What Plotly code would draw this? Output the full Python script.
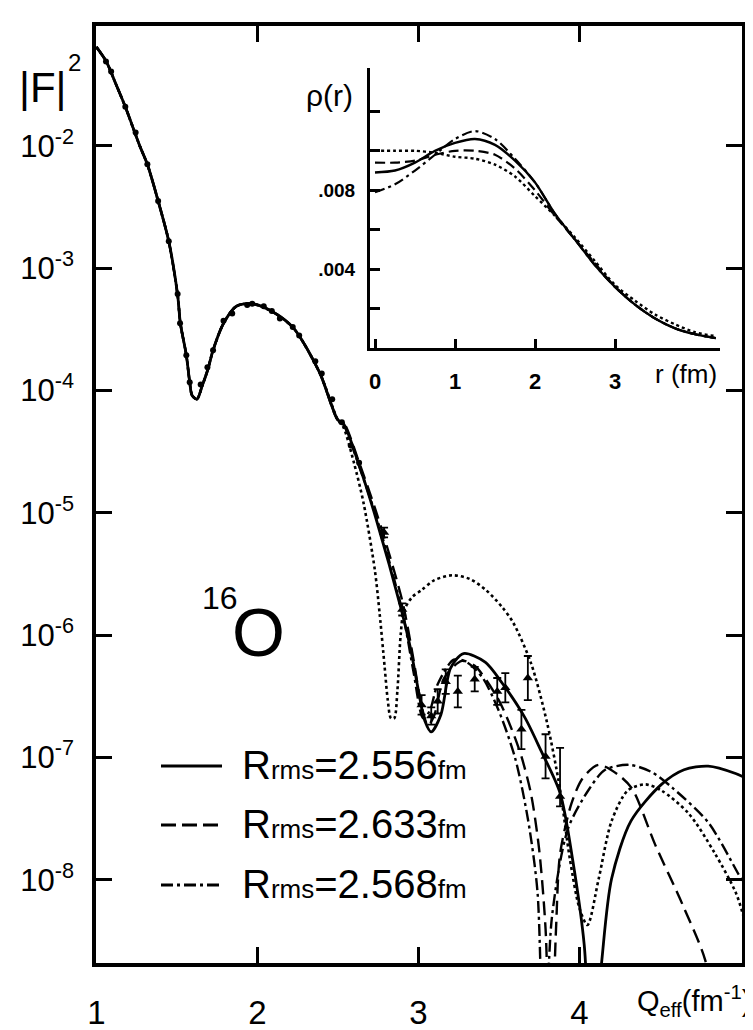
import plotly.graph_objects as go

# ---------------- data ----------------
# common part of the four |F|^2 curves (they coincide up to q ~ 2.5 fm^-1)
q_common = [1.00, 1.062, 1.12, 1.18, 1.27, 1.317, 1.384, 1.45, 1.505, 1.522, 1.559, 1.58,
            1.595, 1.625, 1.658, 1.692, 1.725, 1.79, 1.87, 1.968, 2.10, 2.225, 2.386, 2.50]
F2_common = [0.0646, 0.0490, 0.0324, 0.0209, 0.0100, 0.00708, 0.00355, 0.00166, 6.03e-4, 3.55e-4,
             1.95e-4, 1.17e-4, 9.12e-5, 8.51e-5, 1.10e-4, 1.48e-4, 2.14e-4, 3.55e-4, 4.90e-4,
             5.13e-4, 4.37e-4, 3.24e-4, 1.41e-4, 5.75e-5]

# Rrms = 2.556 fm (solid)
q_solid_tail = [2.535, 2.63, 2.74, 2.89, 2.95, 3.00, 3.04, 3.08, 3.14, 3.20, 3.28, 3.415, 3.52,
                3.66, 3.76, 3.88, 3.96, 4.03, 4.08, 4.14, 4.20, 4.32, 4.51, 4.65, 4.80, 4.97, 5.02]
F2_solid_tail = [5.37e-5, 2.51e-5, 8.71e-6, 1.70e-6, 7.94e-7, 3.55e-7, 2.00e-7, 1.62e-7, 2.24e-7,
                 5.37e-7, 7.08e-7, 6.03e-7, 4.07e-7, 2.14e-7, 1.15e-7, 5.13e-8, 1.41e-8, 2.95e-9,
                 2.5e-10, 2.24e-9, 1.02e-8, 3.02e-8, 6.03e-8, 7.94e-8, 8.51e-8, 7.41e-8, 6.92e-8]

# Rrms = 2.633 fm (dashed)
q_dash_tail = [2.535, 2.63, 2.75, 2.90, 2.97, 3.02, 3.06, 3.10, 3.16, 3.27, 3.35, 3.495, 3.58,
               3.64, 3.70, 3.75, 3.79, 3.82, 3.855, 3.88, 3.95, 4.02, 4.12, 4.25, 4.33, 4.47,
               4.64, 4.78, 4.86]
F2_dash_tail = [5.50e-5, 2.63e-5, 9.12e-6, 1.91e-6, 6.31e-7, 2.63e-7, 1.82e-7, 2.24e-7, 4.47e-7,
                6.17e-7, 5.62e-7, 3.02e-7, 1.70e-7, 1.02e-7, 5.01e-8, 1.78e-8, 3.98e-9, 2.5e-10,
                3.98e-9, 1.62e-8, 4.17e-8, 6.76e-8, 8.71e-8, 7.08e-8, 5.50e-8, 1.95e-8, 6.31e-9,
                2.24e-9, 6.31e-10]

# Rrms = 2.568 fm (dash-dot)
q_dashdot_tail = [2.535, 2.63, 2.75, 2.90, 2.97, 3.03, 3.07, 3.12, 3.22, 3.30, 3.40, 3.50, 3.60,
                  3.68, 3.74, 3.78, 3.83, 3.93, 4.06, 4.16, 4.31, 4.45, 4.58, 4.80, 4.99, 5.03]
F2_dashdot_tail = [5.25e-5, 2.45e-5, 8.32e-6, 1.58e-6, 5.01e-7, 2.09e-7, 2.40e-7, 3.98e-7, 6.31e-7,
                   6.03e-7, 4.47e-7, 2.40e-7, 1.00e-7, 3.16e-8, 7.94e-9, 2.5e-10, 5.01e-9, 2.63e-8,
                   5.50e-8, 7.94e-8, 8.71e-8, 7.59e-8, 5.62e-8, 2.95e-8, 1.10e-8, 8.91e-9]

# dotted curve
q_dot_tail = [2.535, 2.60, 2.66, 2.73, 2.76, 2.79, 2.81, 2.83, 2.85, 2.87, 2.89, 2.91, 2.96, 3.02,
              3.10, 3.21, 3.32, 3.42, 3.52, 3.59, 3.70, 3.80, 3.88, 3.94, 4.00, 4.05, 4.12, 4.20,
              4.30, 4.41, 4.51, 4.68, 4.84, 4.97, 5.02]
F2_dot_tail = [5.01e-5, 2.57e-5, 1.20e-5, 3.39e-6, 1.48e-6, 5.62e-7, 2.95e-7, 2.09e-7, 2.09e-7,
               3.55e-7, 1.00e-6, 1.58e-6, 2.04e-6, 2.34e-6, 2.82e-6, 3.09e-6, 2.88e-6, 2.34e-6,
               1.70e-6, 1.26e-6, 5.89e-7, 1.91e-7, 5.50e-8, 1.51e-8, 5.89e-9, 4.27e-9, 1.02e-8,
               3.02e-8, 5.37e-8, 6.03e-8, 5.37e-8, 3.47e-8, 1.66e-8, 7.94e-9, 5.01e-9]

# experimental points: filled dots (low q)
q_dots = [1.06, 1.092, 1.18, 1.244, 1.317, 1.384, 1.45, 1.505, 1.52, 1.559, 1.58, 1.648, 1.69,
          1.725, 1.79, 1.844, 1.937, 1.968, 2.04, 2.09, 2.14, 2.22, 2.26, 2.36, 2.40, 2.465,
          2.525, 2.58, 2.632]
F2_dots = [0.049, 0.0407, 0.0209, 0.0129, 0.00708, 0.00355, 0.00166, 6.17e-4, 3.55e-4, 1.95e-4,
           1.17e-4, 1.12e-4, 1.55e-4, 2.14e-4, 3.72e-4, 4.27e-4, 5.01e-4, 5.13e-4, 4.90e-4,
           4.47e-4, 3.89e-4, 3.31e-4, 2.82e-4, 1.74e-4, 1.38e-4, 8.51e-5, 5.50e-5, 3.55e-5, 2.57e-5]

# experimental points: triangles with error bars (high q)
q_tri = [2.787, 2.90, 3.02, 3.08, 3.12, 3.17, 3.245, 3.35, 3.49, 3.54, 3.64, 3.68, 3.79, 3.88]
F2_tri = [6.92e-6, 1.62e-6, 2.69e-7, 2.19e-7, 2.88e-7, 4.17e-7, 3.47e-7, 4.37e-7, 3.47e-7,
          3.72e-7, 1.70e-7, 4.47e-7, 1.02e-7, 4.79e-8]
F2_tri_hi = [7.59e-6, 1.82e-6, 3.24e-7, 2.57e-7, 3.63e-7, 5.25e-7, 4.68e-7, 5.50e-7, 4.47e-7,
             4.90e-7, 2.45e-7, 6.76e-7, 1.55e-7, 1.20e-7]
F2_tri_lo = [6.31e-6, 1.45e-6, 2.24e-7, 1.86e-7, 2.29e-7, 3.31e-7, 2.57e-7, 3.47e-7, 2.69e-7,
             2.82e-7, 1.17e-7, 2.95e-7, 6.76e-8, 3.98e-8]

# inset: charge densities rho(r)
r_in = [0, 0.25, 0.5, 0.75, 1.0, 1.25, 1.5, 1.75, 2.0, 2.25, 2.5, 2.75, 3.0, 3.25, 3.5, 3.75, 4.0, 4.26]
rho_dot = [0.0100, 0.0100, 0.0100, 0.0099, 0.0097, 0.0096, 0.0093, 0.0087, 0.0077, 0.0067, 0.0056,
           0.0044, 0.0032, 0.0024, 0.0017, 0.0012, 0.0008, 0.0006]
rho_dash = [0.0094, 0.0094, 0.0095, 0.0098, 0.0100, 0.0100, 0.0098, 0.0091, 0.0080, 0.0067,
            0.0055, 0.0043, 0.0031, 0.0022, 0.0015, 0.0010, 0.0007, 0.0005]
rho_solid = [0.0089, 0.0090, 0.0094, 0.0100, 0.0104, 0.0106, 0.0103, 0.0095, 0.0084, 0.0068,
             0.0055, 0.0042, 0.0031, 0.0022, 0.0015, 0.0010, 0.0007, 0.0005]
rho_dashdot = [0.0079, 0.0083, 0.0090, 0.0098, 0.0106, 0.0110, 0.0106, 0.0096, 0.0084, 0.0068,
               0.0055, 0.0042, 0.0031, 0.0022, 0.0015, 0.0010, 0.0007, 0.0005]

x_ticks = [1, 2, 3, 4]
x_ticktext = ["1", "2", "3", "4"]
y_ticks = [1e-2, 1e-3, 1e-4, 1e-5, 1e-6, 1e-7, 1e-8]
y_ticktext = ["10<sup>-2</sup>", "10<sup>-3</sup>", "10<sup>-4</sup>", "10<sup>-5</sup>",
              "10<sup>-6</sup>", "10<sup>-7</sup>", "10<sup>-8</sup>"]
r_ticks = [0, 1, 2, 3]
r_ticktext = ["0", "1", "2", "3"]
rho_label_ticks = [0.004, 0.008]
rho_label_text = [".004", ".008"]
rho_minor_ticks = [0.002, 0.006, 0.010, 0.012]
legend_labels = ["2.556", "2.633", "2.568"]

# ---------------- figure ----------------
FONT = "Liberation Sans, Arial, sans-serif"
K = "black"

W, H = 753, 1030
L, R, T, B = 88, 19, 18, 75
PW, PH = W - L - R, H - T - B


def px(xp):
    return (xp - L) / PW


def py(yp):
    return (H - B - yp) / PH


fig = go.Figure()

curves = [
    (q_common + q_dot_tail, F2_common + F2_dot_tail, "3px,3px", 2.6),
    (q_common + q_dashdot_tail, F2_common + F2_dashdot_tail, "12px,4px,3px,4px", 2.4),
    (q_common + q_dash_tail, F2_common + F2_dash_tail, "14px,7px", 2.4),
    (q_common + q_solid_tail, F2_common + F2_solid_tail, "solid", 2.8),
]
for qx, fy, dash, w in curves:
    fig.add_trace(go.Scatter(x=qx, y=fy, mode="lines",
                             line=dict(color=K, width=w, dash=dash, shape="spline", smoothing=0.8),
                             showlegend=False, hoverinfo="skip", cliponaxis=True))

fig.add_trace(go.Scatter(x=q_dots, y=F2_dots, mode="markers",
                         marker=dict(symbol="circle", size=6, color=K), showlegend=False))

err_plus = [h - v for h, v in zip(F2_tri_hi, F2_tri)]
err_minus = [v - l for v, l in zip(F2_tri, F2_tri_lo)]
fig.add_trace(go.Scatter(x=q_tri, y=F2_tri, mode="markers",
                         marker=dict(symbol="triangle-up", size=9, color=K),
                         error_y=dict(type="data", array=err_plus, arrayminus=err_minus,
                                      color=K, thickness=1.8, width=4),
                         showlegend=False))

# inset
inset = [
    (rho_dot, "3px,3px", 2.4),
    (rho_dashdot, "10px,4px,3px,4px", 2.2),
    (rho_dash, "10px,5px", 2.2),
    (rho_solid, "solid", 2.4),
]
for rv, dash, w in inset:
    fig.add_trace(go.Scatter(x=r_in, y=rv, mode="lines", xaxis="x2", yaxis="y2",
                             line=dict(color=K, width=w, dash=dash, shape="spline", smoothing=0.8),
                             showlegend=False, hoverinfo="skip"))

# legend keys (decoration) and texts
rows = [758, 817, 877]
dashes = ["solid", "15px,6px", "12px,4px,3px,4px"]
shapes = []
ann = []
for yrow, d, lab in zip(rows, dashes, legend_labels):
    shapes.append(dict(type="line", xref="paper", yref="paper", x0=px(153), x1=px(214),
                       y0=py(yrow), y1=py(yrow), line=dict(color=K, width=3, dash=d)))
    ann.append(dict(xref="paper", yref="paper", x=px(232), y=py(yrow - 1), xanchor="left",
                    yanchor="middle", showarrow=False,
                    text="R<span style='font-size:26px'>rms</span>=" + lab +
                         "<span style='font-size:26px'>fm</span>",
                    font=dict(family=FONT, size=40, color=K)))

ann += [
    dict(xref="paper", yref="paper", x=px(34), y=py(80), xanchor="center", yanchor="middle",
         showarrow=False, text="|F|", font=dict(family=FONT, size=42, color=K)),
    dict(xref="paper", yref="paper", x=px(66), y=py(55), xanchor="center", yanchor="middle",
         showarrow=False, text="2", font=dict(family=FONT, size=24, color=K)),
    dict(xref="paper", yref="paper", x=px(212), y=py(590), xanchor="center", yanchor="middle",
         showarrow=False, text="16", font=dict(family=FONT, size=32, color=K)),
    dict(xref="paper", yref="paper", x=px(250), y=py(624), xanchor="center", yanchor="middle",
         showarrow=False, text="O", font=dict(family=FONT, size=68, color=K)),
    dict(xref="paper", yref="paper", x=px(745), y=py(993), xanchor="right", yanchor="middle",
         showarrow=False, text="Q<sub>eff</sub>(fm<sup>-1</sup>)",
         font=dict(family=FONT, size=29, color=K)),
    dict(xref="paper", yref="paper", x=px(321), y=py(88), xanchor="center", yanchor="middle",
         showarrow=False, text="ρ(r)", font=dict(family=FONT, size=30, color=K)),
    dict(xref="paper", yref="paper", x=px(678), y=py(366), xanchor="center", yanchor="middle",
         showarrow=False, text="r (fm)", font=dict(family=FONT, size=26, color=K)),
]

axis_common = dict(showline=True, linecolor=K, showgrid=False, zeroline=False, ticks="inside",
                   tickcolor=K, automargin=False)

fig.update_layout(
    width=W, height=H, autosize=False,
    margin=dict(l=L, r=R, t=T, b=B),
    paper_bgcolor="white", plot_bgcolor="white",
    showlegend=False,
    xaxis=dict(**axis_common, range=[0.998, 5.010], linewidth=3.5, mirror="ticks",
               ticklen=16, tickwidth=3, tickvals=x_ticks, ticktext=x_ticktext,
               tickfont=dict(family=FONT, size=33, color=K), ticklabelstandoff=18),
    yaxis=dict(**axis_common, type="log", range=[-8.68, -1.019], linewidth=3.5, mirror="ticks",
               ticklen=16, tickwidth=3, tickvals=y_ticks, ticktext=y_ticktext,
               tickfont=dict(family=FONT, size=31, color=K), ticklabelstandoff=12),
    xaxis2=dict(**axis_common, domain=[px(362), px(712)], anchor="y2", range=[-0.0625, 4.3125],
                linewidth=3, ticklen=9, tickwidth=2.5, tickvals=r_ticks, ticktext=r_ticktext,
                tickfont=dict(family=FONT, size=22, color=K, weight="bold"),
                ticklabelstandoff=12),
    yaxis2=dict(**axis_common, domain=[py(340), py(60)], anchor="x2", range=[0, 0.0142],
                linewidth=3, ticklen=10, tickwidth=2.5,
                tickvals=rho_label_ticks, ticktext=rho_label_text,
                minor=dict(tickvals=rho_minor_ticks, ticks="inside", ticklen=10, tickwidth=2.5,
                           tickcolor=K, showgrid=False),
                tickfont=dict(family=FONT, size=19, color=K, weight="bold"),
                ticklabelstandoff=8),
    shapes=shapes,
    annotations=ann,
)

fig.write_html("out.html")
